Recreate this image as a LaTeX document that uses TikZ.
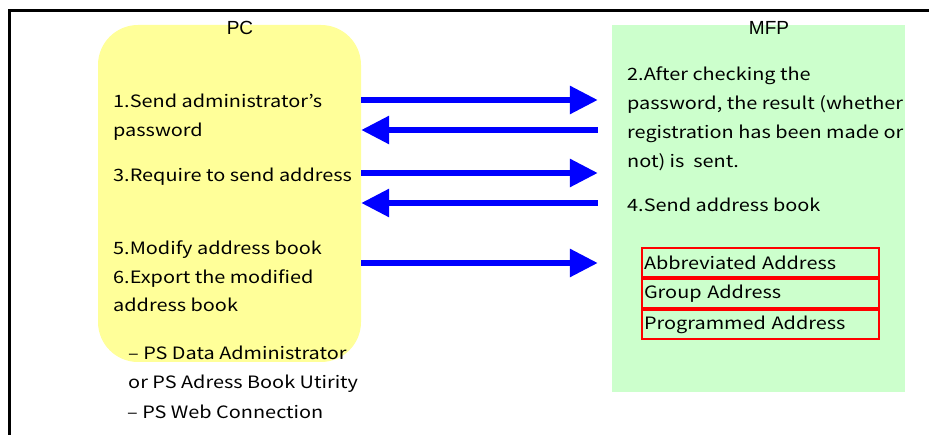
\documentclass[tikz,border=0pt]{standalone}
\usepackage{fontspec}
\setmainfont[FakeStretch=1.17]{Noto Sans CJK JP}
\newfontfamily\labelfont{Liberation Sans}
\usetikzlibrary{arrows.meta,positioning}
\definecolor{pcyellow}{HTML}{FFFF99}
\definecolor{mfpgreen}{HTML}{CCFFCC}

\begin{document}
\begin{tikzpicture}[x=1pt,y=-1pt,
    txt/.style={anchor=base west,inner sep=0pt,font=\fontsize{17}{20}\selectfont},
    head/.style={anchor=base,inner sep=0pt,font=\labelfont\fontsize{19}{22}\selectfont},
    flow/.style={blue,line width=6pt,-{Triangle[length=28pt,width=27pt]}},
    entry/.style={draw=red,line width=2pt,minimum height=29pt,inner xsep=2pt,inner ysep=0pt,
        text width=233pt,align=left,font=\fontsize{17}{20}\selectfont}]
    \clip (0,0) rectangle (929,435);
    \draw[line width=2.4pt] (9.5,10.5) rectangle (960,460);
    % the two sides
    \node[fill=pcyellow,rounded corners=40pt,minimum width=263pt,minimum height=337pt] (pc) at (229.5,193.5) {};
    \node[fill=mfpgreen,minimum width=293pt,minimum height=367pt] (mfp) at (758.5,208.5) {};
    \node[head] (pclbl) at (240,35) {PC};
    \node[head] (mfplbl) at (769,35) {MFP};
    % PC side
    \coordinate (dL) at (0,29);
    \path (113,108) node[txt](s1){1.Send administrator’s}
        ++(dL) node[txt](s1b){password}
        ++(0,45) node[txt](s3){3.Require to send address}
        ++(0,73) node[txt](s5){5.Modify address book}
        ++(0,28.5) node[txt](s6){6.Export the modified}
        ++(0,28.5) node[txt](s6b){address book};
    \path (128,360) node[txt](tool1){– PS Data Administrator}
        ++(dL) node[txt](tool2){or PS Adress Book Utirity}
        ++(-1,29.5) node[txt](tool3){– PS Web Connection};
    % MFP side
    \path (627,81) node[txt](s2){2.After checking the}
        ++(dL) node[txt](s2b){password, the result (whether}
        ++(dL) node[txt](s2c){registration has been made or}
        ++(dL) node[txt](s2d){not) is\ \ sent.}
        ++(0,44) node[txt](s4){4.Send address book};
    \node[entry,anchor=north west] (abbr) at (641,247) {Abbreviated Address};
    \node[entry,below=0pt of abbr] (grp) {Group Address};
    \node[entry,below=0pt of grp] (prog) {Programmed Address};
    % arrows
    \coordinate (r1) at (0,100);
    \coordinate (r2) at (0,130);
    \coordinate (r3) at (0,173);
    \coordinate (r4) at (0,203);
    \coordinate (r5) at (0,263);
    \draw[flow,shorten >=14pt] (pc.east |- r1) -- (mfp.west |- r1);
    \draw[flow,shorten <=14pt] (mfp.west |- r2) -- (pc.east |- r2);
    \draw[flow,shorten >=14pt] (pc.east |- r3) -- (mfp.west |- r3);
    \draw[flow,shorten <=14pt] (mfp.west |- r4) -- (pc.east |- r4);
    \draw[flow,shorten >=14pt] (pc.east |- r5) -- (mfp.west |- r5);
\end{tikzpicture}
\end{document}
